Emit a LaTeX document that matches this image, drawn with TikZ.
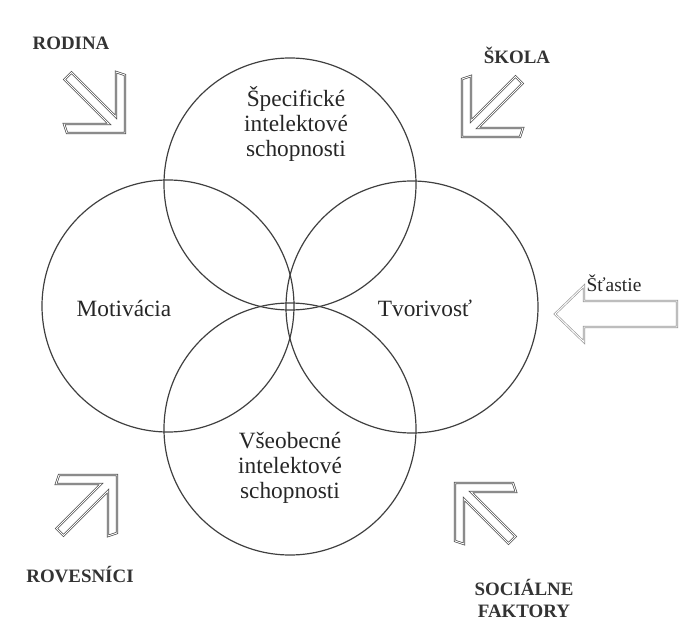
\documentclass[tikz,border=0pt]{standalone}
\usepackage{fontspec}
\setmainfont{Liberation Serif}
\tikzset{
  ring/.style={circle, draw=black!75, line width=0.9pt, minimum size=189pt, inner sep=0pt},
  inside/.style={font=\fontsize{17.5}{18.5}\selectfont, text=black!85, align=center, inner sep=0pt},
  factor/.style={font=\fontsize{14.2}{16.5}\selectfont\bfseries, text=black!80, align=center, inner sep=0pt},
  hollow/.style={draw=black!70, line width=0.5pt, double=white, double distance=0.7pt},
  faint/.style={hollow, draw=black!40},
}
% corner arrow: tip at #1, turned by #2
\newcommand{\cornerarrow}[2]{%
  \draw[hollow, shift={#1}, rotate=#2] (0,0) -- (-58,0) -- (-61,-9) -- (-16,-9)
    -- (-60.5,-53.5) -- (-53.5,-60.5) -- (-9,-16) -- (-9,-61) -- (0,-58) -- cycle;}
\begin{document}
\begin{tikzpicture}[x=0.75pt, y=-0.75pt]
        \useasboundingbox (0,0) rectangle (679,639);
        % circles
        \node[ring] (top)    at (290,184) {};
        \node[ring] (left)   at (168,306) {};
        \node[ring] (right)  at (412,307) {};
        \node[ring] (bottom) at (290,429) {};
        % texts
        \node[inside] (specific) at (296,124) {Špecifické\\intelektové\\schopnosti};
        \node[inside] (motivation) at (124,308) {Motivácia};
        \node[inside] (creativity) at (425,308) {Tvorivosť};
        \node[inside] (general)  at (290,468) {Všeobecné\\intelektové\\schopnosti};
        \node[factor] (family)   at (71,43) {RODINA};
        \node[factor] (school)   at (517,55) {ŠKOLA};
        \node[factor] (peers)    at (80,575) {ROVESNÍCI};
        \node[factor] (social)   at (524,598) {SOCIÁLNE\\FAKTORY};
        \node[inside, font=\fontsize{14.6}{16}\selectfont] (luck) at (614,283) {Šťastie};
        % arrows
        \cornerarrow{(125,133)}{0}
        \cornerarrow{(462,137)}{-90}
        \cornerarrow{(117,475)}{90}
        \cornerarrow{(455,483)}{180}
        \draw[faint] (555,314) -- (584,286) -- (584,301) -- (677,301) -- (677,327)
          -- (584,327) -- (584,342) -- cycle;
\end{tikzpicture}
\end{document}
